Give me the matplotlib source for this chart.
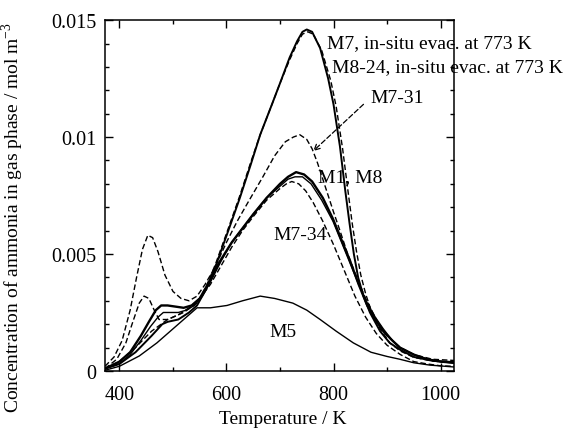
import numpy as np
import matplotlib
matplotlib.use("Agg")
import matplotlib.pyplot as plt
from matplotlib.ticker import MultipleLocator, FixedLocator, FixedFormatter

plt.rcParams['font.family'] = ['Liberation Serif', 'DejaVu Serif']
plt.rcParams['mathtext.fontset'] = 'custom'
plt.rcParams['mathtext.rm'] = 'Liberation Serif'

# ---- data ----
m7_T = [373, 400, 430, 460, 480, 490, 510, 530, 545, 562, 580, 605, 625, 645, 663, 685, 700, 718, 732, 742, 750, 760, 775, 790, 800, 812, 822, 830, 838, 846, 856, 868, 887, 905, 925, 950, 986, 1025]
m7_C = [0.0001, 0.0003, 0.0008, 0.0015, 0.0020, 0.0021, 0.0022, 0.0025, 0.0028, 0.0035, 0.0045, 0.0061, 0.0074, 0.0088, 0.0101, 0.0114, 0.0123, 0.0134, 0.0141, 0.0145, 0.0146, 0.0145, 0.0138, 0.0125, 0.0114, 0.0096, 0.0077, 0.0063, 0.0050, 0.0040, 0.0032, 0.0025, 0.0017, 0.0012, 0.0009, 0.0006, 0.00043, 0.00038]

m824_T = [373, 400, 430, 460, 490, 520, 545, 562, 580, 605, 625, 645, 663, 685, 700, 718, 732, 742, 752, 762, 778, 795, 805, 817, 827, 835, 843, 851, 860, 870, 887, 905, 925, 950, 986, 1025]
m824_C = [0.0001, 0.0004, 0.0010, 0.0017, 0.0022, 0.0025, 0.0029, 0.0036, 0.0046, 0.0062, 0.0075, 0.0089, 0.0101, 0.0114, 0.0123, 0.0133, 0.0140, 0.0144, 0.0145, 0.0144, 0.0137, 0.0124, 0.0113, 0.0095, 0.0077, 0.0063, 0.0051, 0.0041, 0.0033, 0.0026, 0.0018, 0.0012, 0.00085, 0.00058, 0.00042, 0.00036]

m731_T = [373, 390, 405, 420, 432, 443, 453, 462, 472, 485, 500, 515, 530, 545, 560, 580, 600, 620, 640, 668, 690, 710, 725, 737, 750, 760, 770, 780, 790, 800, 812, 825, 840, 860, 880, 900, 925, 950, 985, 1025]
m731_C = [0.0002, 0.0006, 0.0013, 0.0026, 0.0040, 0.0052, 0.0058, 0.0057, 0.0051, 0.0041, 0.0034, 0.0031, 0.0030, 0.0032, 0.0037, 0.0045, 0.0055, 0.0064, 0.0072, 0.0083, 0.0092, 0.0098, 0.0100, 0.0101, 0.0099, 0.0095, 0.0089, 0.0082, 0.0075, 0.0068, 0.0060, 0.0051, 0.0042, 0.0031, 0.0022, 0.0015, 0.0010, 0.0007, 0.0005, 0.00045]

m1_T = [373, 400, 420, 440, 455, 468, 478, 490, 505, 520, 535, 550, 565, 588, 610, 630, 650, 675, 700, 715, 730, 745, 760, 780, 799, 815, 831, 847, 863, 878, 893, 910, 924, 950, 975, 1000, 1025]
m1_C = [0.0001, 0.0004, 0.0008, 0.0015, 0.0021, 0.0026, 0.0028, 0.0028, 0.00275, 0.0027, 0.0028, 0.0031, 0.0037, 0.0047, 0.0055, 0.0061, 0.0067, 0.0074, 0.0080, 0.0083, 0.0085, 0.0084, 0.0081, 0.0074, 0.0065, 0.0056, 0.0047, 0.0037, 0.0028, 0.0022, 0.0017, 0.0013, 0.0010, 0.0007, 0.0005, 0.0004, 0.00035]

m8_T = [373, 400, 420, 440, 458, 472, 482, 495, 510, 525, 540, 555, 570, 590, 610, 630, 650, 675, 700, 715, 728, 742, 758, 778, 799, 815, 831, 847, 863, 878, 893, 910, 924, 950, 975, 1000, 1025]
m8_C = [0.0001, 0.0003, 0.0007, 0.0013, 0.0019, 0.0023, 0.0025, 0.0025, 0.0025, 0.0026, 0.0028, 0.0032, 0.0038, 0.0047, 0.0055, 0.0061, 0.0067, 0.0074, 0.0079, 0.0082, 0.0083, 0.0083, 0.0080, 0.0073, 0.0064, 0.0055, 0.0046, 0.0037, 0.0029, 0.0023, 0.0018, 0.0013, 0.0010, 0.0007, 0.0005, 0.0004, 0.00033]

m734_T = [373, 395, 412, 425, 437, 446, 455, 465, 474, 490, 510, 530, 550, 570, 590, 610, 630, 650, 675, 700, 712, 722, 735, 748, 762, 780, 800, 820, 840, 860, 880, 900, 925, 950, 975, 1000, 1025]
m734_C = [0.0001, 0.0005, 0.0012, 0.0021, 0.0029, 0.0032, 0.0031, 0.0026, 0.0022, 0.0022, 0.0024, 0.0027, 0.0031, 0.0037, 0.0045, 0.0053, 0.0060, 0.0066, 0.0073, 0.0078, 0.0080, 0.0081, 0.0080, 0.0077, 0.0072, 0.0064, 0.0054, 0.0043, 0.0032, 0.0023, 0.0016, 0.0011, 0.0007, 0.0004, 0.0003, 0.00022, 0.0002]

m5_T = [373, 400, 437, 470, 500, 525, 545, 570, 601, 630, 663, 690, 724, 750, 775, 805, 837, 870, 900, 924, 950, 980, 1025]
m5_C = [0.00003, 0.0002, 0.00064, 0.0012, 0.0018, 0.0023, 0.0027, 0.0027, 0.0028, 0.0030, 0.0032, 0.0031, 0.0029, 0.0026, 0.0022, 0.0017, 0.0012, 0.0008, 0.00062, 0.0005, 0.00035, 0.00025, 0.00017]

x_ticks = [400, 600, 800, 1000]
x_ticklabels = ['400', '600', '800', '1000']
y_ticks = [0, 0.005, 0.01, 0.015]
y_ticklabels = ['0', '0.005', '0.01', '0.015']

# ---- figure ----
fig = plt.figure(figsize=(5.66, 4.31), dpi=100)
ax = fig.add_axes([0.1855, 0.137, 0.6165, 0.814])

dash = (0, (4, 2))
ax.plot(m5_T, m5_C, color='black', lw=1.0)
ax.plot(m8_T, m8_C, color='black', lw=1.0)
ax.plot(m1_T, m1_C, color='black', lw=1.7)
ax.plot(m7_T, m7_C, color='black', lw=1.4)
ax.plot(m824_T, m824_C, color='black', lw=1.0, linestyle=dash)
ax.plot(m731_T, m731_C, color='black', lw=1.0, linestyle=dash)
ax.plot(m734_T, m734_C, color='black', lw=1.0, linestyle=dash)

ax.set_xlim(373, 1025)
ax.set_ylim(0, 0.015)

ax.xaxis.set_major_locator(FixedLocator(x_ticks))
ax.xaxis.set_major_formatter(FixedFormatter(x_ticklabels))
ax.xaxis.set_minor_locator(MultipleLocator(100))
ax.yaxis.set_major_locator(FixedLocator(y_ticks))
ax.yaxis.set_major_formatter(FixedFormatter(y_ticklabels))
ax.yaxis.set_minor_locator(MultipleLocator(0.001))

ax.tick_params(which='both', direction='in', top=True, right=True, labelsize=14.5, color='black')
ax.tick_params(which='major', length=6, width=1.0)
ax.tick_params(which='minor', length=3, width=1.0)
ax.tick_params(axis='x', which='major', pad=10)
ax.tick_params(axis='y', which='major', pad=6)
for s in ax.spines.values():
    s.set_linewidth(1.1)

ax.set_xlabel('Temperature / K', fontsize=14)
ax.set_ylabel('Concentration of ammonia in gas phase / mol m$^{-3}$', fontsize=14)
ax.xaxis.set_label_coords(0.51, -0.112)
ax.yaxis.set_label_coords(-0.225, 0.44)

fs = 14
ax.text(788, 0.01406, 'M7, in-situ evac. at 773 K', fontsize=fs, ha='left', va='center', clip_on=False)
ax.text(798, 0.0130, 'M8-24, in-situ evac. at 773 K', fontsize=fs, ha='left', va='center', clip_on=False)
ax.text(868, 0.0117, 'M7-31', fontsize=fs, ha='left', va='center')
ax.text(771, 0.00833, 'M1, M8', fontsize=fs, ha='left', va='center')
ax.text(687, 0.00585, 'M7-34', fontsize=fs, ha='left', va='center')
ax.text(681, 0.0017, 'M5', fontsize=fs, ha='left', va='center')

ax.annotate('', xy=(762, 0.0094), xytext=(856, 0.0114),
            arrowprops=dict(arrowstyle='->', color='black', lw=0.9, linestyle=(0, (4, 2)),
                            shrinkA=0, shrinkB=0))

fig.savefig('out.png', dpi=100)
